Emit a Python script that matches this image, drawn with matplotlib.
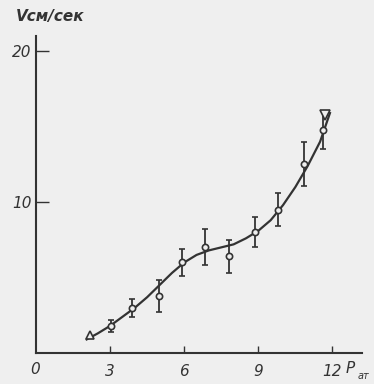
import matplotlib
matplotlib.use("Agg")
import matplotlib.pyplot as plt

# measured points (circles)
px = [3.04, 3.9, 4.98, 5.9, 6.85, 7.8, 8.87, 9.78, 10.86, 11.6]
py = [1.8, 3.0, 3.8, 6.0, 7.0, 6.4, 8.0, 9.5, 12.5, 14.8]
perr = [0.4, 0.6, 1.05, 0.9, 1.2, 1.1, 1.0, 1.1, 1.45, 1.25]

# triangle markers
tx_up = [2.2]
ty_up = [1.2]
tx_dn = [11.7]
ty_dn = [15.8]

# smooth curve
cx = [2.05, 2.5, 3.0, 3.5, 4.0, 4.5, 5.0, 5.5, 6.0, 6.5, 7.0, 7.5, 8.0, 8.5,
      9.0, 9.5, 10.0, 10.5, 11.0, 11.5, 11.9]
cy = [0.9, 1.3, 1.8, 2.4, 3.0, 3.7, 4.5, 5.3, 6.0, 6.5, 6.8, 7.0, 7.2, 7.6,
      8.1, 8.8, 9.8, 11.0, 12.4, 14.0, 15.9]

xticks = [3, 6, 9, 12]
yticks = [10, 20]

bg = "#efefef"
ink = "#333333"

fig = plt.figure(figsize=(3.74, 3.84), dpi=100, facecolor=bg)
ax = fig.add_axes([0.0963, 0.0807, 0.885, 0.845], facecolor=bg)
ax.set_xlim(0, 13.4)
ax.set_ylim(0, 21.5)

ax.plot(cx, cy, color=ink, lw=1.6, zorder=2)
ax.errorbar(px, py, yerr=perr, fmt="o", ms=4.5, mfc=bg, mec=ink, mew=1.2,
            ecolor=ink, elinewidth=1.3, capsize=2.5, capthick=1.3, zorder=3)
ax.plot(tx_up, ty_up, "^", ms=5.5, mfc=bg, mec=ink, mew=1.2, zorder=3)
ax.plot(tx_dn, ty_dn, "v", ms=6.5, mfc=bg, mec=ink, mew=1.2, zorder=3)

for s in ["top", "right"]:
    ax.spines[s].set_visible(False)
ax.spines["left"].set_bounds(0, 21.0)
ax.spines["bottom"].set_bounds(0, 13.2)
for s in ["left", "bottom"]:
    ax.spines[s].set_color(ink)
    ax.spines[s].set_linewidth(1.5)

ax.set_xticks(xticks)
ax.set_yticks(yticks)
ax.tick_params(axis="both", direction="in", length=5, width=1.0, color=ink,
               labelsize=11, labelcolor=ink)
ax.set_xticklabels([str(t) for t in xticks], fontstyle="italic")
ax.set_yticklabels([str(t) for t in yticks], fontstyle="italic")
ax.tick_params(axis="x", pad=8)
ax.tick_params(axis="y", pad=3, length=9)

fig.text(0.093, 0.025, "0", fontsize=11, fontstyle="italic", color=ink, ha="center")
fig.text(0.925, 0.028, "P", fontsize=11, fontstyle="italic", color=ink)
fig.text(0.957, 0.012, "ат", fontsize=7, fontstyle="italic", color=ink)
fig.text(0.043, 0.945, "Vсм/сек", fontsize=11, fontstyle="italic",
         fontweight="bold", color=ink)

fig.savefig("out.png", dpi=100, facecolor=bg)
